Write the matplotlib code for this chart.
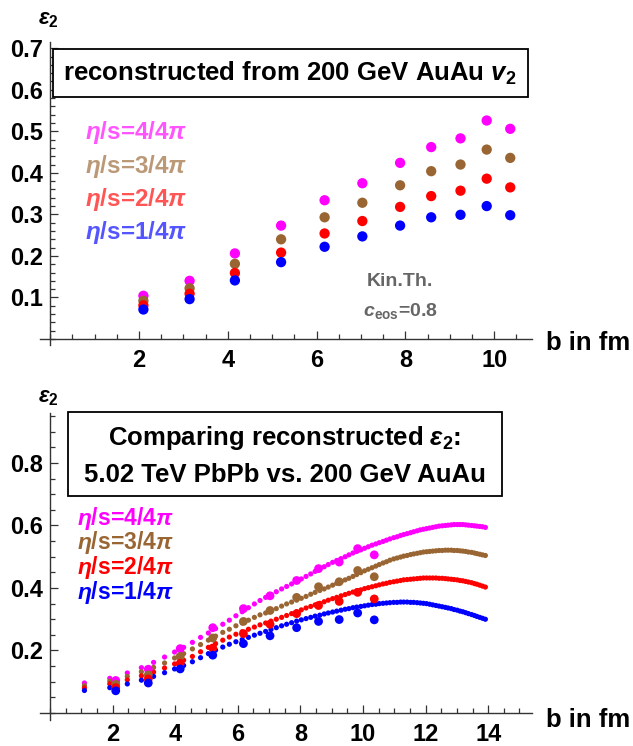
import matplotlib
matplotlib.use('Agg')
import matplotlib.pyplot as plt
from matplotlib.patches import Rectangle
from matplotlib.ticker import MultipleLocator, FixedLocator

plt.rcParams['font.family'] = ['Liberation Sans', 'DejaVu Sans']
plt.rcParams['font.weight'] = 'bold'
plt.rcParams['mathtext.fontset'] = 'custom'
plt.rcParams['mathtext.rm'] = 'Liberation Sans:bold'
plt.rcParams['mathtext.it'] = 'Liberation Sans:italic'
plt.rcParams['mathtext.sf'] = 'Liberation Sans:bold:italic'
plt.rcParams['mathtext.bf'] = 'Liberation Sans:bold'

# ---------------- data ----------------
series_labels = [r"$\eta$/s=4/4$\pi$", r"$\eta$/s=3/4$\pi$", r"$\eta$/s=2/4$\pi$", r"$\eta$/s=1/4$\pi$"]
colors = ['#FF00FF', '#996633', '#FF0000', '#0000FF']
light_colors = ['#FF55FF', '#BB9977', '#FF5555', '#5555FF']

# 200 GeV AuAu reconstructed eps2
b_auau = [2.10, 3.14, 4.16, 5.20, 6.18, 7.03, 7.88, 8.58, 9.24, 9.83, 10.36]
eps_auau_4 = [0.104, 0.140, 0.206, 0.273, 0.334, 0.375, 0.424, 0.462, 0.483, 0.526, 0.506]
eps_auau_3 = [0.092, 0.122, 0.181, 0.240, 0.293, 0.328, 0.370, 0.404, 0.420, 0.456, 0.436]
eps_auau_2 = [0.081, 0.109, 0.159, 0.208, 0.254, 0.284, 0.318, 0.344, 0.357, 0.386, 0.365]
eps_auau_1 = [0.071, 0.096, 0.141, 0.185, 0.222, 0.247, 0.273, 0.293, 0.299, 0.320, 0.298]

# 5.02 TeV PbPb reconstructed eps2
b_pbpb = [1.10, 1.91, 2.47, 2.92, 3.31, 3.66, 3.98, 4.27, 4.55, 4.81,
          5.06, 5.29, 5.52, 5.73, 5.94, 6.14, 6.34, 6.53, 6.71, 6.89,
          7.06, 7.23, 7.40, 7.56, 7.72, 7.88, 8.03, 8.18, 8.33, 8.47,
          8.62, 8.76, 8.89, 9.03, 9.16, 9.30, 9.43, 9.55, 9.68, 9.80,
          9.93, 10.05, 10.17, 10.29, 10.41, 10.52, 10.64, 10.75, 10.86, 10.98,
          11.09, 11.20, 11.30, 11.41, 11.52, 11.62, 11.73, 11.83, 11.93, 12.03,
          12.13, 12.23, 12.33, 12.43, 12.53, 12.63, 12.72, 12.82, 12.91, 13.01,
          13.10, 13.19, 13.28, 13.37, 13.47, 13.56, 13.64, 13.73, 13.82, 13.91]
eps_pbpb_4 = [0.096, 0.111, 0.128, 0.145, 0.162, 0.179, 0.195, 0.210, 0.226, 0.242,
              0.256, 0.270, 0.284, 0.297, 0.311, 0.324, 0.337, 0.349, 0.360, 0.370,
              0.379, 0.388, 0.397, 0.405, 0.413, 0.421, 0.429, 0.437, 0.445, 0.453,
              0.461, 0.468, 0.475, 0.482, 0.488, 0.494, 0.500, 0.506, 0.512, 0.517,
              0.522, 0.527, 0.532, 0.537, 0.541, 0.545, 0.549, 0.553, 0.557, 0.561,
              0.564, 0.568, 0.571, 0.574, 0.577, 0.580, 0.583, 0.586, 0.588, 0.590,
              0.592, 0.594, 0.596, 0.598, 0.599, 0.600, 0.601, 0.602, 0.603, 0.603,
              0.603, 0.603, 0.602, 0.601, 0.600, 0.599, 0.598, 0.597, 0.596, 0.594]
eps_pbpb_3 = [0.088, 0.102, 0.117, 0.132, 0.146, 0.160, 0.176, 0.190, 0.205, 0.219,
              0.233, 0.246, 0.258, 0.268, 0.279, 0.288, 0.297, 0.306, 0.314, 0.320,
              0.327, 0.334, 0.342, 0.349, 0.355, 0.361, 0.367, 0.373, 0.380, 0.386,
              0.392, 0.397, 0.403, 0.409, 0.415, 0.420, 0.426, 0.431, 0.437, 0.443,
              0.449, 0.455, 0.460, 0.465, 0.470, 0.475, 0.480, 0.484, 0.489, 0.493,
              0.496, 0.499, 0.502, 0.504, 0.507, 0.509, 0.511, 0.513, 0.515, 0.516,
              0.517, 0.518, 0.519, 0.520, 0.520, 0.521, 0.521, 0.521, 0.520, 0.520,
              0.519, 0.518, 0.517, 0.515, 0.514, 0.512, 0.510, 0.508, 0.506, 0.504]
eps_pbpb_2 = [0.080, 0.093, 0.106, 0.119, 0.131, 0.144, 0.157, 0.169, 0.181, 0.196,
              0.210, 0.222, 0.233, 0.243, 0.252, 0.260, 0.268, 0.275, 0.282, 0.288,
              0.294, 0.300, 0.306, 0.312, 0.318, 0.324, 0.330, 0.336, 0.341, 0.346,
              0.351, 0.356, 0.361, 0.366, 0.370, 0.375, 0.379, 0.383, 0.387, 0.391,
              0.394, 0.398, 0.401, 0.404, 0.407, 0.410, 0.413, 0.415, 0.418, 0.420,
              0.422, 0.424, 0.426, 0.427, 0.428, 0.429, 0.430, 0.431, 0.432, 0.432,
              0.432, 0.432, 0.432, 0.431, 0.431, 0.430, 0.429, 0.428, 0.427, 0.426,
              0.424, 0.423, 0.421, 0.419, 0.417, 0.414, 0.412, 0.409, 0.406, 0.403]
eps_pbpb_1 = [0.072, 0.081, 0.093, 0.105, 0.117, 0.129, 0.141, 0.152, 0.164, 0.177,
              0.190, 0.201, 0.211, 0.220, 0.228, 0.235, 0.242, 0.249, 0.255, 0.261,
              0.267, 0.273, 0.279, 0.284, 0.289, 0.294, 0.298, 0.302, 0.306, 0.310,
              0.313, 0.317, 0.320, 0.323, 0.326, 0.329, 0.332, 0.334, 0.337, 0.339,
              0.341, 0.343, 0.345, 0.347, 0.348, 0.350, 0.351, 0.352, 0.353, 0.354,
              0.354, 0.355, 0.355, 0.355, 0.354, 0.354, 0.353, 0.352, 0.351, 0.350,
              0.348, 0.346, 0.344, 0.342, 0.340, 0.338, 0.336, 0.334, 0.331, 0.329,
              0.326, 0.324, 0.321, 0.318, 0.315, 0.312, 0.309, 0.306, 0.303, 0.300]

auau = [eps_auau_4, eps_auau_3, eps_auau_2, eps_auau_1]
pbpb = [eps_pbpb_4, eps_pbpb_3, eps_pbpb_2, eps_pbpb_1]

# ---------------- figure ----------------
W, H = 633, 746
fig = plt.figure(figsize=(W / 100, H / 100), dpi=100)


def fx(x):
    return x / W


def fy(y):
    return 1 - y / H


axis_color = '#333333'
tick_fs = 17


def style_axes(ax, xmaj, xmin_step, ymaj, ymin_step):
    for s in ['top', 'right']:
        ax.spines[s].set_visible(False)
    ax.spines['left'].set_position(('data', 0))
    ax.spines['bottom'].set_position(('data', 0))
    for s in ['left', 'bottom']:
        ax.spines[s].set_color(axis_color)
        ax.spines[s].set_linewidth(1.0)
    ax.xaxis.set_major_locator(FixedLocator(xmaj))
    ax.xaxis.set_minor_locator(MultipleLocator(xmin_step))
    ax.yaxis.set_major_locator(FixedLocator(ymaj))
    ax.yaxis.set_minor_locator(MultipleLocator(ymin_step))
    ax.tick_params(which='both', direction='in', color=axis_color, width=0.9)
    ax.tick_params(which='major', length=6)
    ax.tick_params(which='minor', length=3.5)
    ax.tick_params(axis='x', which='major', pad=7, labelsize=tick_fs)
    ax.tick_params(axis='y', which='major', pad=5, labelsize=tick_fs)
    for lab in ax.get_xticklabels() + ax.get_yticklabels():
        lab.set_fontweight('bold')


# ---- top panel ----
ax1 = fig.add_axes([fx(50) - 0.23 * 43.8 / W, fy(339) - 0.015 * 415 / H,
                    (482 + 0.23 * 43.8) / W, (297 + 0.015 * 415) / H])
ax1.set_xlim(-0.23, 10.85)
ax1.set_ylim(-0.015, 0.715)
for vals, c in zip(auau, colors):
    ax1.scatter(b_auau, vals, s=55, color=c, edgecolors='none', zorder=3)
style_axes(ax1, [2, 4, 6, 8, 10], 0.5, [0.1, 0.2, 0.3, 0.4, 0.5, 0.6, 0.7], 0.02)
ax1.yaxis.set_major_formatter(plt.FuncFormatter(lambda v, p: f"{v:.1f}"))

# ---- bottom panel ----
ax2 = fig.add_axes([fx(50) - 0.31 * 31.3 / W, fy(713) - 0.024 * 312 / H,
                    (482 + 0.31 * 31.3) / W, (300 + 0.024 * 312) / H])
ax2.set_xlim(-0.31, 15.4)
ax2.set_ylim(-0.024, 0.96)
for vals, c in zip(pbpb, colors):
    ax2.scatter(b_pbpb, vals, s=14, color=c, edgecolors='none', zorder=3)
for vals, c in zip(auau, colors):
    ax2.scatter(b_auau, vals, s=40, color=c, edgecolors='none', zorder=4)
style_axes(ax2, [2, 4, 6, 8, 10, 12, 14], 0.5, [0.2, 0.4, 0.6, 0.8], 0.05)
ax2.yaxis.set_major_formatter(plt.FuncFormatter(lambda v, p: f"{v:.1f}"))

# ---- axis labels ----
for ytxt in (20, 398):
    fig.text(fx(38), fy(ytxt), r"$\epsilon_2$", fontsize=16, ha='left', va='center')
for ytxt in (343, 720):
    fig.text(fx(546), fy(ytxt), "b in fm", fontsize=18.5, fontweight='bold',
             ha='left', va='center')

# ---- title boxes ----
fig.add_artist(Rectangle((fx(53), fy(97)), fx(528) - fx(53), fy(49) - fy(97),
                         transform=fig.transFigure, fill=True, facecolor='white',
                         edgecolor='black', linewidth=1.3, zorder=5))
fig.text(fx(290), fy(73), r"reconstructed from 200 GeV AuAu $\mathsf{v}_2$",
         fontsize=18.5, fontweight='bold', ha='center', va='center', zorder=6)

fig.add_artist(Rectangle((fx(68), fy(496)), fx(502) - fx(68), fy(412) - fy(496),
                         transform=fig.transFigure, fill=True, facecolor='white',
                         edgecolor='black', linewidth=1.3, zorder=5))
fig.text(fx(285), fy(438), r"Comparing reconstructed $\epsilon_2$:",
         fontsize=18.5, fontweight='bold', ha='center', va='center', zorder=6)
fig.text(fx(285), fy(475), "5.02 TeV PbPb vs. 200 GeV AuAu",
         fontsize=18.5, fontweight='bold', ha='center', va='center', zorder=6)

# ---- legends ----
for i, (lab, c) in enumerate(zip(series_labels, light_colors)):
    fig.text(fx(85), fy(133 + 33.3 * i), lab, fontsize=17.5, fontweight='bold',
             color=c, ha='left', va='center')
for i, (lab, c) in enumerate(zip(series_labels, colors)):
    fig.text(fx(77), fy(518 + 24.7 * i), lab, fontsize=16.5, fontweight='bold',
             color=c, ha='left', va='center')

# ---- annotation ----
fig.text(fx(400), fy(282), "Kin.Th.", fontsize=14, fontweight='bold',
         color='#666666', ha='center', va='center')
fig.text(fx(400), fy(311), r"$\mathsf{c}_\mathrm{eos}$=0.8", fontsize=14,
         fontweight='bold', color='#666666', ha='center', va='center')

fig.savefig('out.png', dpi=100)
